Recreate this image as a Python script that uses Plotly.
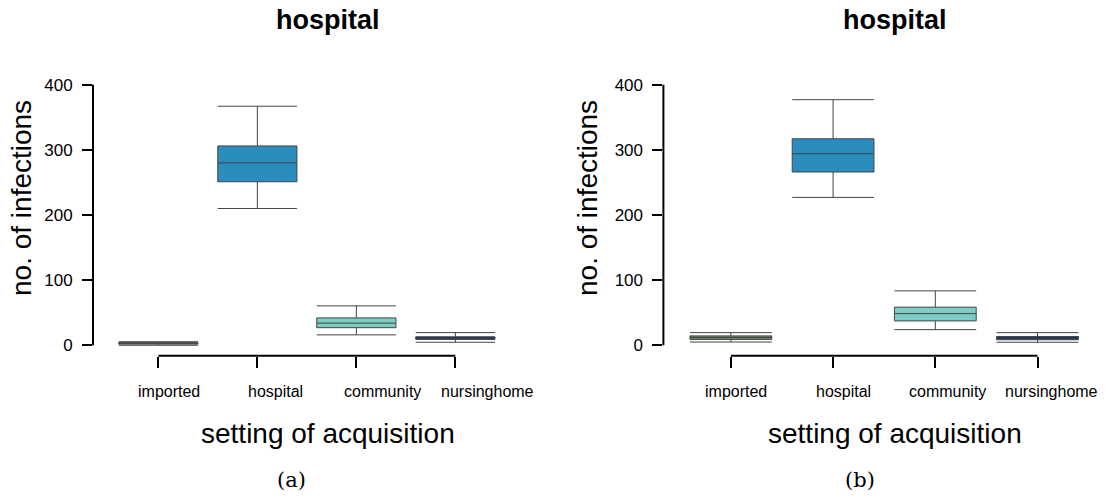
import plotly.graph_objects as go

# Categories of the setting where infection was acquired
categories = ["imported", "hospital", "community", "nursinghome"]
positions = [1, 2, 3, 4]

# Box-plot summaries (lower whisker, Q1, median, Q3, upper whisker), panel (a)
a_low = [0, 210, 16, 4.6]
a_q1 = [1.8, 251, 27, 9]
a_med = [3, 280, 34, 11]
a_q3 = [4, 306, 42, 13]
a_high = [5.5, 367, 60.5, 19.5]

# Same summaries for panel (b)
b_low = [5, 227, 24, 4.6]
b_q1 = [9, 266, 37.4, 8.5]
b_med = [12, 294, 48.6, 11]
b_q3 = [14.4, 317, 58.5, 13.5]
b_high = [19.4, 377, 83.5, 19.4]

a_colors = ["#8f8f8f", "#2b8cbe", "#7ccdc4", "#08306b"]
b_colors = ["#6f8a6f", "#2b8cbe", "#7ccdc4", "#08306b"]

y_ticks = [0, 100, 200, 300, 400]
XR = [0.34, 4.66]
YR = [-16, 416]

W, H = 1105, 500
FONT = "Liberation Sans, Arial, sans-serif"

# pixel geometry of the two plotting regions
panels = [
    dict(xa="x", ya="y", left=93, right=520.7, title_x=328, ylab_x=21,
         low=a_low, q1=a_q1, med=a_med, q3=a_q3, high=a_high, colors=a_colors,
         label_shift=[11, 18, 26, 32], tag="(a)", tag_x=291),
    dict(xa="x2", ya="y2", left=663.4, right=1105.4, title_x=895, ylab_x=587,
         low=b_low, q1=b_q1, med=b_med, q3=b_q3, high=b_high, colors=b_colors,
         label_shift=[5, 10, 12, 14], tag="(b)", tag_x=860),
]
top_px, bottom_px = 74.3, 355.7

fig = go.Figure()


def frac(v, rng):
    return (v - rng[0]) / (rng[1] - rng[0])


annotations = []
shapes = []
for p in panels:
    for i, cat in enumerate(categories):
        fig.add_trace(go.Box(
            x=[positions[i]],
            q1=[p["q1"][i]], median=[p["med"][i]], q3=[p["q3"][i]],
            lowerfence=[p["low"][i]], upperfence=[p["high"][i]],
            width=0.8, whiskerwidth=1,
            fillcolor=p["colors"][i],
            line=dict(color="#444444", width=1),
            boxpoints=False, showlegend=False, hoverinfo="skip",
            xaxis=p["xa"], yaxis=p["ya"], name=cat,
        ))

    xa_dom = p["xa"] + " domain"
    ya_dom = p["ya"] + " domain"
    # y axis line from 0 to 400
    shapes.append(dict(type="line", xref=xa_dom, yref=ya_dom,
                       x0=0, x1=0, y0=frac(y_ticks[0], YR), y1=frac(y_ticks[-1], YR),
                       line=dict(color="black", width=2)))
    # x axis line from first to last category
    shapes.append(dict(type="line", xref=xa_dom, yref=ya_dom,
                       x0=frac(positions[0], XR), x1=frac(positions[-1], XR), y0=0, y1=0,
                       line=dict(color="black", width=2)))

    # category labels
    for i, cat in enumerate(categories):
        annotations.append(dict(x=positions[i], xref=p["xa"], y=1 - 391 / H, yref="paper",
                                text=cat, showarrow=False, xshift=p["label_shift"][i],
                                font=dict(family=FONT, size=16, color="black"),
                                xanchor="center", yanchor="middle"))
    # panel title
    annotations.append(dict(x=p["title_x"] / W, y=1 - 20 / H, xref="paper", yref="paper",
                            text="<b>hospital</b>", showarrow=False,
                            font=dict(family=FONT, size=27, color="black"),
                            xanchor="center", yanchor="middle"))
    # axis titles
    annotations.append(dict(x=p["title_x"] / W, y=1 - 433 / H, xref="paper", yref="paper",
                            text="setting of acquisition", showarrow=False,
                            font=dict(family=FONT, size=28, color="black"),
                            xanchor="center", yanchor="middle"))
    annotations.append(dict(x=p["ylab_x"] / W, y=1 - 198 / H, xref="paper", yref="paper",
                            text="no. of infections", showarrow=False, textangle=-90,
                            font=dict(family=FONT, size=28, color="black"),
                            xanchor="center", yanchor="middle"))
    # sub-figure tag
    annotations.append(dict(x=p["tag_x"] / W, y=1 - 480 / H, xref="paper", yref="paper",
                            text=p["tag"], showarrow=False,
                            font=dict(family="DejaVu Serif, Liberation Serif, serif", size=21,
                                      color="black"),
                            xanchor="center", yanchor="middle"))

xaxis_common = dict(range=XR, tickvals=positions, showticklabels=False,
                    ticks="outside", ticklen=11, tickwidth=2, tickcolor="black",
                    showline=False, showgrid=False, zeroline=False)
yaxis_common = dict(range=YR, tickvals=y_ticks, ticks="outside", ticklen=10,
                    tickwidth=2, tickcolor="black", showline=False, showgrid=False,
                    zeroline=False, tickfont=dict(family=FONT, size=17, color="black"),
                    ticklabelstandoff=6)

ydom = [1 - bottom_px / H, 1 - top_px / H]
fig.update_layout(
    width=W, height=H,
    margin=dict(l=0, r=0, t=0, b=0),
    paper_bgcolor="white", plot_bgcolor="white",
    xaxis=dict(domain=[panels[0]["left"] / W, panels[0]["right"] / W], anchor="y",
               **xaxis_common),
    yaxis=dict(domain=ydom, anchor="x", **yaxis_common),
    xaxis2=dict(domain=[panels[1]["left"] / W, min(1.0, panels[1]["right"] / W)], anchor="y2",
                **xaxis_common),
    yaxis2=dict(domain=ydom, anchor="x2", **yaxis_common),
    shapes=shapes,
    annotations=annotations,
    boxgap=0,
)

fig.write_html("out.html")
